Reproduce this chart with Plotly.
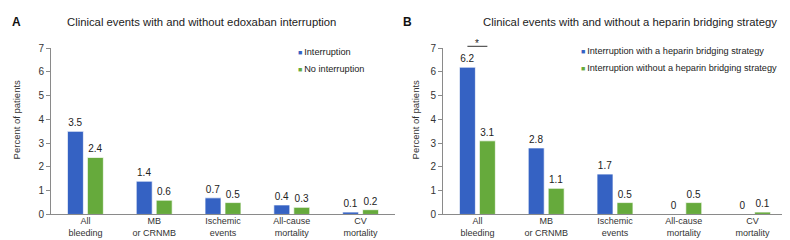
import plotly.graph_objects as go

categories = ["All<br>bleeding", "MB<br>or CRNMB", "Ischemic<br>events", "All-cause<br>mortality", "CV<br>mortality"]

a_interruption = [3.5, 1.4, 0.7, 0.4, 0.1]
a_no_interruption = [2.4, 0.6, 0.5, 0.3, 0.2]

b_with_bridging = [6.2, 2.8, 1.7, 0, 0]
b_without_bridging = [3.1, 1.1, 0.5, 0.5, 0.1]

a_series_names = ["Interruption", "No interruption"]
b_series_names = ["Interruption with a heparin bridging strategy",
                  "Interruption without a heparin bridging strategy"]

title_a = "Clinical events with and without edoxaban interruption"
title_b = "Clinical events with and without a heparin bridging strategy"
y_title = "Percent of patients"
y_ticks = [0, 1, 2, 3, 4, 5, 6, 7]

BLUE = "#3562c3"
GREEN = "#66aa3c"
W, H = 790, 240
FONT = "Liberation Sans, Arial, sans-serif"

fig = go.Figure()

def add_bar(vals, name, color, xa, ya):
    fig.add_trace(go.Bar(
        x=categories, y=vals, name=name, xaxis=xa, yaxis=ya,
        marker=dict(color=color, line=dict(color="rgba(255,255,255,0.7)", width=1)),
        text=[f"{v:g}" for v in vals], textposition="outside",
        textfont=dict(size=10, color="#222", family=FONT),
        constraintext="none", cliponaxis=False, showlegend=False,
    ))

add_bar(a_interruption, a_series_names[0], BLUE, "x", "y")
add_bar(a_no_interruption, a_series_names[1], GREEN, "x", "y")
add_bar(b_with_bridging, b_series_names[0], BLUE, "x2", "y2")
add_bar(b_without_bridging, b_series_names[1], GREEN, "x2", "y2")

ydom = [1 - 211 / H, 1 - 36 / H]
xcommon = dict(showline=True, linecolor="#8a8a8a", linewidth=1, ticks="",
               tickfont=dict(size=9, color="#333", family=FONT), showgrid=False,
               zeroline=False, fixedrange=True, ticklabelstandoff=-2)
ycommon = dict(showline=True, linecolor="#8a8a8a", linewidth=1, ticks="outside",
               ticklen=4, tickcolor="#8a8a8a", tickvals=y_ticks, range=[0, 7],
               tickfont=dict(size=10, color="#333", family=FONT), showgrid=False,
               zeroline=False, domain=ydom, fixedrange=True)

fig.update_layout(
    width=W, height=H, margin=dict(l=0, r=0, t=0, b=0),
    paper_bgcolor="white", plot_bgcolor="white",
    barmode="group", bargap=0.42, bargroupgap=0.2,
    font=dict(family=FONT, color="#222"),
    xaxis=dict(domain=[43 / W, 387 / W], anchor="y", **xcommon),
    yaxis=dict(anchor="x", **ycommon),
    xaxis2=dict(domain=[435 / W, 779 / W], anchor="y2", **xcommon),
    yaxis2=dict(anchor="x2", **ycommon),
    showlegend=False,
)

def px_x(p):
    return p / W

def px_y(p):
    return 1 - p / H

ann = []
# panel letters and titles
ann.append(dict(x=px_x(2), y=px_y(8), text="<b>A</b>", font=dict(size=12, color="#111"), xanchor="left"))
ann.append(dict(x=px_x(393), y=px_y(8), text="<b>B</b>", font=dict(size=12, color="#111"), xanchor="left"))
ann.append(dict(x=px_x(193), y=px_y(8), text=title_a, font=dict(size=11.3, color="#222"), xanchor="center"))
ann.append(dict(x=px_x(622), y=px_y(8), text=title_b, font=dict(size=11.3, color="#222"), xanchor="center"))
# y titles
ann.append(dict(x=px_x(8), y=px_y(112), text=y_title, textangle=-90, font=dict(size=9.5, color="#333"),
                xanchor="center"))
ann.append(dict(x=px_x(407), y=px_y(112), text=y_title, textangle=-90, font=dict(size=9.5, color="#333"),
                xanchor="center"))
# legends
for i, (nm, col) in enumerate(zip(a_series_names, [BLUE, GREEN])):
    ann.append(dict(x=px_x(288), y=px_y(40 + 18 * i),
                    text=f'<span style="color:{col};font-size:7px">■ </span>{nm}',
                    font=dict(size=9.2, color="#222"), xanchor="left"))
for i, (nm, col) in enumerate(zip(b_series_names, [BLUE, GREEN])):
    ann.append(dict(x=px_x(571), y=px_y(39 + 18 * i),
                    text=f'<span style="color:{col};font-size:7px">■ </span>{nm}',
                    font=dict(size=9.2, color="#222"), xanchor="left"))
# significance asterisk on panel B, All bleeding
ann.append(dict(x=0, y=px_y(31), xref="x2", yref="paper", text="*",
                font=dict(size=10, color="#222"), xanchor="center"))
for a in ann:
    a.setdefault("xref", "paper")
    a.setdefault("yref", "paper")
    a["showarrow"] = False
    a.setdefault("yanchor", "middle")
    a["font"]["family"] = FONT

fig.update_layout(annotations=ann)
fig.add_shape(type="line", xref="x2", yref="paper", x0=-0.145, x1=0.145,
              y0=px_y(34), y1=px_y(34), line=dict(color="#333", width=1))

fig.write_html("out.html")
